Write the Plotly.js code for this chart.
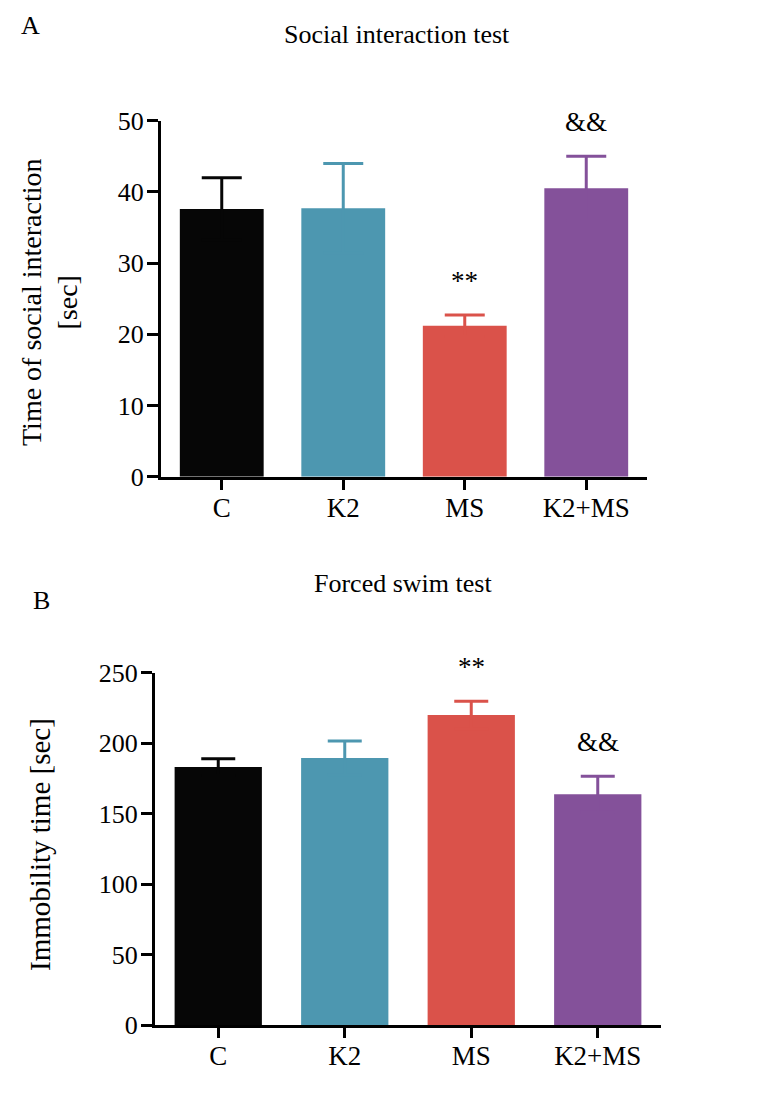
<!DOCTYPE html>
<html>
<head>
<meta charset="utf-8">
<script src="https://cdn.plot.ly/plotly-3.0.1.min.js"></script>
<style>
  html, body { margin: 0; padding: 0; background: #ffffff; }
  #chart { width: 758px; height: 1104px; }
</style>
</head>
<body>
<div id="chart"></div>
<script>
// Groups shared by both tests
const groups = ['C', 'K2', 'MS', 'K2+MS'];
const groupColors = ['#060606', '#4D97B0', '#DA524A', '#84519A'];

// Social interaction test: mean time and SEM (sec)
const socialMean = [37.6, 37.7, 21.2, 40.5];
const socialSem = [4.4, 6.3, 1.5, 4.5];
const socialMarks = ['', '', '**', '&&'];

// Forced swim test: mean immobility time and SEM (sec)
const swimMean = [183, 189.5, 220, 163.7];
const swimSem = [6, 12, 9.7, 12.8];
const swimMarks = ['', '', '**', '&&'];

const FONT = 'Liberation Serif';

// error_y takes a single colour, so draw one trace per group.
// The lower half of each error bar sits inside its own bar in the same colour.
function groupTraces(means, sems, xa, ya, capWidth) {
  return groups.map((g, i) => ({
    type: 'bar',
    x: [g],
    y: [means[i]],
    xaxis: xa,
    yaxis: ya,
    width: 0.69,
    marker: { color: groupColors[i], line: { width: 0 } },
    error_y: {
      type: 'data',
      array: [sems[i]],
      symmetric: true,
      visible: true,
      thickness: 3,
      width: capWidth,
      color: groupColors[i]
    },
    hoverinfo: 'skip',
    showlegend: false
  }));
}

const traces = [
  ...groupTraces(socialMean, socialSem, 'x', 'y', 20),
  ...groupTraces(swimMean, swimSem, 'x2', 'y2', 17)
];

function xAxis(domain, anchor) {
  return {
    domain: domain,
    anchor: anchor,
    type: 'category',
    categoryarray: groups,
    range: [-0.5, 3.5],
    showline: true,
    linewidth: 3,
    linecolor: '#000',
    ticks: 'outside',
    ticklen: 10,
    tickwidth: 3,
    tickcolor: '#000',
    ticklabelstandoff: -5,
    showgrid: false,
    zeroline: false,
    tickfont: { family: FONT, size: 27, color: '#000' },
    fixedrange: true
  };
}

function yAxis(domain, anchor, max, step) {
  return {
    domain: domain,
    anchor: anchor,
    range: [0, max],
    tick0: 0,
    dtick: step,
    showline: true,
    linewidth: 3,
    linecolor: '#000',
    ticks: 'outside',
    ticklen: 11,
    tickwidth: 3,
    tickcolor: '#000',
    ticklabelstandoff: -2,
    showgrid: false,
    zeroline: false,
    tickfont: { family: FONT, size: 26, color: '#000' },
    fixedrange: true
  };
}

function markAnnotations(marks, means, sems, xref, yref) {
  const out = [];
  marks.forEach((m, i) => {
    if (!m) return;
    out.push({
      xref: xref, yref: yref,
      x: groups[i], y: means[i] + sems[i],
      text: m, showarrow: false,
      yanchor: 'bottom', yshift: 17,
      font: { family: FONT, size: 27, color: '#000' }
    });
  });
  return out;
}

const plain = (txt, x, y, size, angle) => ({
  xref: 'paper', yref: 'paper', x: x, y: y,
  text: txt, showarrow: false,
  xanchor: 'center', yanchor: 'middle',
  textangle: angle || 0,
  font: { family: FONT, size: size, color: '#000' }
});

const W = 758, H = 1104;
const px = v => v / W;
const py = v => 1 - v / H;

const layout = {
  width: W,
  height: H,
  margin: { l: 0, r: 0, t: 0, b: 0 },
  font: { family: FONT, size: 26, color: '#000' },
  paper_bgcolor: '#ffffff',
  plot_bgcolor: '#ffffff',
  xaxis: xAxis([px(161), px(647)], 'y'),
  yaxis: yAxis([py(476.7), py(120.7)], 'x', 50, 10),
  xaxis2: xAxis([px(155), px(661)], 'y2'),
  yaxis2: yAxis([py(1025), py(672.7)], 'x2', 250, 50),
  annotations: [
    plain('A', px(30), py(26), 26),
    plain('Social interaction test', px(397), py(35), 26),
    plain('Time of social interaction<br>[sec]', px(50), py(303), 28, -90),
    plain('B', px(41), py(600), 26),
    plain('Forced swim test', px(403), py(583), 26),
    plain('Immobility time [sec]', px(40), py(845), 29, -90),
    ...markAnnotations(socialMarks, socialMean, socialSem, 'x', 'y'),
    ...markAnnotations(swimMarks, swimMean, swimSem, 'x2', 'y2')
  ]
};

Plotly.newPlot('chart', traces, layout, { displayModeBar: false, staticPlot: true });
</script>
</body>
</html>
